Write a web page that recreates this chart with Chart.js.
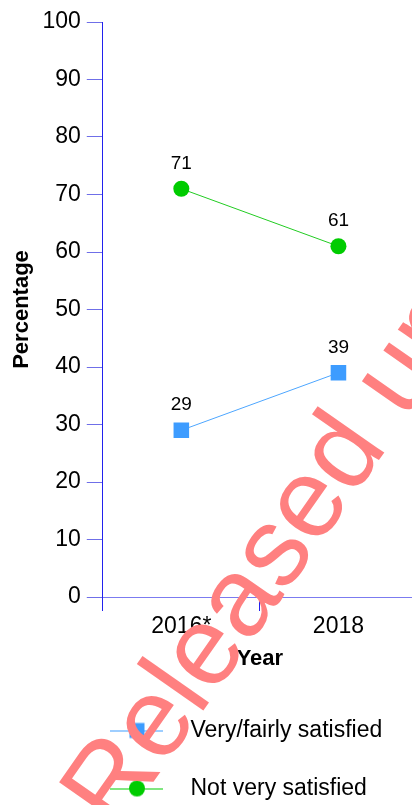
<!DOCTYPE html>
<html>
<head>
<meta charset="utf-8">
<title>Satisfaction</title>
<script src="https://cdn.jsdelivr.net/npm/chart.js@4.4.1/dist/chart.umd.min.js"></script>
<style>
  html, body { margin: 0; padding: 0; background: #fff; overflow: hidden; }
  #wrap { width: 412px; height: 805px; overflow: hidden; position: relative; }
  canvas { display: block; }
</style>
</head>
<body>
<div id="wrap"><canvas id="g_satisfaction" width="428" height="810"></canvas></div>
<script>
// years and the two series (percent)
const years = ['2016*', '2018'];
const verySatisfied = [29, 39];
const notSatisfied = [71, 61];
const seriesNames = ['Very/fairly satisfied', 'Not very satisfied'];
const yMin = 0, yMax = 100, yStep = 10;

const blue = '#3d9cff';
const green = '#00cc00';
const axisBlue = '#2222ee';

Chart.defaults.font.family = '"Liberation Sans", Arial, Helvetica, sans-serif';
Chart.defaults.color = '#000';

// legend symbols: a short line with the marker on it
const LEG_PAD = 35;
const LEG_BOX = 136;
function legendSymbol(color, shape) {
    let c = document.createElement('canvas');
    c.width = LEG_BOX;
    c.height = 20;
    let g = c.getContext('2d');
    let cx = 94, cy = 10;
    g.strokeStyle = color;
    g.lineWidth = 1;
    g.beginPath();
    g.moveTo(cx - 27, cy + 0.5);
    g.lineTo(cx + 26, cy + 0.5);
    g.stroke();
    g.fillStyle = color;
    if (shape === 'rect') {
        g.fillRect(cx - 7.5, cy - 7.5, 15, 15);
    } else {
        g.beginPath();
        g.arc(cx, cy, 8, 0, Math.PI * 2);
        g.fill();
    }
    return c;
}
const symbols = [legendSymbol(blue, 'rect'), legendSymbol(green, 'circle')];

// values written above each point
const valueLabels = {
    id: 'valueLabels',
    afterDatasetsDraw(chart) {
        let ctx = chart.ctx;
        ctx.save();
        ctx.font = '19px "Liberation Sans", Arial, sans-serif';
        ctx.fillStyle = '#000';
        ctx.textAlign = 'center';
        ctx.textBaseline = 'middle';
        chart.data.datasets.forEach((ds, i) => {
            chart.getDatasetMeta(i).data.forEach((pt, j) => {
                ctx.fillText(ds.data[j], pt.x, pt.y - 25);
            });
        });
        ctx.restore();
    }
};

// stamp across the chart
const stamp = {
    id: 'stamp',
    afterDraw(chart) {
        let ctx = chart.ctx;
        ctx.save();
        ctx.translate(117, 834);
        ctx.rotate(-55 * Math.PI / 180);
        ctx.font = '112px "Liberation Sans", Arial, sans-serif';
        ctx.fillStyle = '#ff8080';
        ctx.textBaseline = 'alphabetic';
        ctx.fillText('Released under', 0, 0);
        ctx.restore();
    }
};

let conData = {
    labels: years,
    datasets: [{
        label: seriesNames[0],
        data: verySatisfied,
        borderColor: '#4da6ff',
        backgroundColor: blue,
        borderWidth: 1,
        pointStyle: 'rect',
        pointRadius: 11,
        pointBorderWidth: 0,
        pointBackgroundColor: blue
    }, {
        label: seriesNames[1],
        data: notSatisfied,
        borderColor: '#22cc22',
        backgroundColor: green,
        borderWidth: 1,
        pointStyle: 'circle',
        pointRadius: 8,
        pointBorderWidth: 0,
        pointBackgroundColor: green
    }]
};

let options = {
    responsive: false,
    animation: false,
    layout: { padding: { left: 8, top: 22, right: 2, bottom: 0 } },
    plugins: {
        tooltip: { enabled: false },
        legend: {
            position: 'bottom',
            align: 'start',
            labels: {
                font: { size: 23 },
                color: '#000',
                padding: LEG_PAD,
                usePointStyle: true,
                pointStyleWidth: LEG_BOX,
                generateLabels(chart) {
                    let items = Chart.defaults.plugins.legend.labels.generateLabels(chart);
                    items.forEach((it, i) => { it.pointStyle = symbols[i]; });
                    return items;
                }
            }
        }
    },
    scales: {
        x: {
            type: 'category',
            offset: true,
            border: { color: '#7b7bf0', width: 1 },
            grid: {
                offset: true,
                drawOnChartArea: false,
                drawTicks: true,
                tickLength: 14,
                color: axisBlue
            },
            ticks: { font: { size: 23 }, color: '#000', padding: 2 },
            title: {
                display: true,
                text: 'Year',
                font: { size: 22, weight: 'bold' },
                color: '#000',
                padding: { top: 3, bottom: 12 }
            }
        },
        y: {
            min: yMin,
            max: yMax,
            border: { color: axisBlue, width: 1 },
            grid: {
                drawOnChartArea: false,
                drawTicks: true,
                tickLength: 16,
                color: '#6f6fe8'
            },
            ticks: { stepSize: yStep, font: { size: 23 }, color: '#000', padding: 6 },
            title: {
                display: true,
                text: 'Percentage',
                font: { size: 22, weight: 'bold' },
                color: '#000',
                padding: { top: 1, bottom: 1 }
            }
        }
    }
};

let config = {
    type: 'line',
    data: conData,
    options: options,
    plugins: [valueLabels, stamp]
};

window.addEventListener('load', () => {
    let context = document.getElementById('g_satisfaction').getContext('2d');
    new Chart(context, config);
});
</script>
</body>
</html>
